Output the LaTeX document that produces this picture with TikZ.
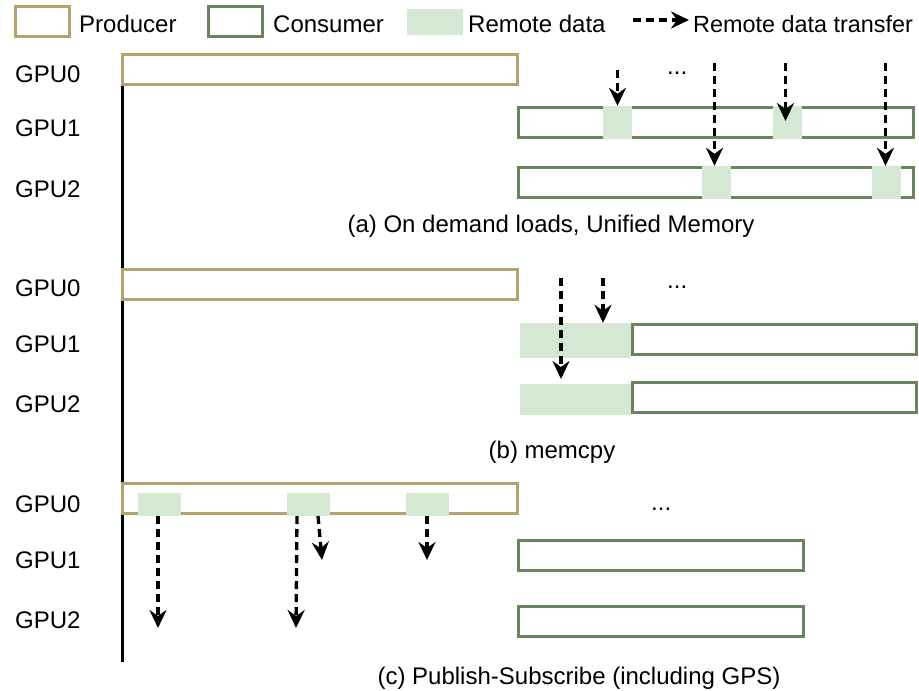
\documentclass[tikz,border=0pt]{standalone}
\usepackage{fontspec}
\setmainfont{Liberation Sans}
\usetikzlibrary{arrows.meta}
\definecolor{prodc}{RGB}{180,161,112}
\definecolor{consc}{RGB}{106,132,94}
\definecolor{remc}{RGB}{213,232,212}
\tikzset{
  txt/.style={font=\fontsize{24}{28}\selectfont, inner sep=0pt, anchor=base west},
  ctxt/.style={font=\fontsize{24}{28}\selectfont, inner sep=0pt, anchor=base},
  prodbox/.style={draw=prodc, line width=3pt, fill=white, inner sep=0pt, minimum height=30pt},
  consbox/.style={draw=consc, line width=3pt, fill=white, inner sep=0pt, minimum height=30pt},
  remote/.style={fill=remc, draw=none, inner sep=0pt},
  xfer/.style={line width=3.3pt, dash pattern=on 8pt off 5pt, -{Stealth[length=18pt,width=17pt,inset=6pt]}},
  timeline/.style={line width=3pt, black}
}
\begin{document}
\begin{tikzpicture}[x=1pt,y=-1pt]
\useasboundingbox (0,0) rectangle (919,691);
\fill[white] (0,0) rectangle (919,691);

% ---------- legend ----------
\node[prodbox, minimum width=54pt] (lp) at (42.5,21.5) {};
\node[txt] (lpt) at (79,32) {Producer};
\node[consbox, minimum width=54pt] (lc) at (235.5,21.5) {};
\node[txt] (lct) at (273,32) {Consumer};
\node[remote, minimum width=56pt, minimum height=26pt] (lr) at (435,22) {};
\node[txt] (lrt) at (468,32) {Remote data};
\coordinate (la1) at (633,20);
\coordinate (la2) at (689,20);
\draw[xfer] (la1) -- (la2);
\node[txt, font=\fontsize{23.4}{28}\selectfont] (lat) at (693,32) {Remote data transfer};

% ---------- timeline ----------
\coordinate (tl1) at (122,55);
\coordinate (tl2) at (122,662);
\draw[timeline] (tl1) -- (tl2);

% ---------- (a) ----------
\node[txt] (ga0) at (15,82) {GPU0};
\node[txt] (ga1) at (15,136) {GPU1};
\node[txt] (ga2) at (15,197) {GPU2};
\node[prodbox, minimum width=395pt] (pa) at (320,69.5) {};
\node[consbox, minimum width=395pt] (ca1) at (716,122.5) {};
\node[consbox, minimum width=395pt] (ca2) at (716,182.5) {};
\node[remote, minimum width=29pt, minimum height=33pt] (ra1) at (617.5,122.5) {};
\node[remote, minimum width=29pt, minimum height=33pt] (ra2) at (787.5,122.5) {};
\node[remote, minimum width=29pt, minimum height=33pt] (ra3) at (716.5,182.5) {};
\node[remote, minimum width=29pt, minimum height=33pt] (ra4) at (886.5,182.5) {};
\node[txt] (da) at (667,74) {...};
\coordinate (sa1) at (617.5,70);
\coordinate (sa2) at (714.5,63);
\coordinate (sa3) at (785.5,63);
\coordinate (sa4) at (885.5,63);
\coordinate (ea3) at (785.5,121);
\draw[xfer] (sa1) -- (ra1.north);
\draw[xfer] (sa2) -- (sa2 |- ra3.north);
\draw[xfer] (sa3) -- (ea3);
\draw[xfer] (sa4) -- (sa4 |- ra4.north);
\node[ctxt] (capa) at (551,232) {(a) On demand loads, Unified Memory};

% ---------- (b) ----------
\node[txt] (gb0) at (15,296) {GPU0};
\node[txt] (gb1) at (15,352) {GPU1};
\node[txt] (gb2) at (15,412) {GPU2};
\node[prodbox, minimum width=395pt] (pb) at (320,284) {};
\node[remote, minimum width=111pt, minimum height=35pt] (rb1) at (575.5,340.5) {};
\node[remote, minimum width=111pt, minimum height=31pt] (rb2) at (575.5,399.5) {};
\node[consbox, minimum width=284pt] (cb1) at (774.5,339.5) {};
\node[consbox, minimum width=284pt] (cb2) at (774.5,397) {};
\node[txt] (db) at (667,288) {...};
\coordinate (sb1) at (561,278);
\coordinate (sb2) at (603,278);
\coordinate (eb1) at (561,379);
\draw[xfer] (sb1) -- (eb1);
\draw[xfer] (sb2) -- (sb2 |- rb1.north);
\node[ctxt] (capb) at (552,458) {(b) memcpy};

% ---------- (c) ----------
\node[txt] (gc0) at (15,512) {GPU0};
\node[txt] (gc1) at (15,568) {GPU1};
\node[txt] (gc2) at (15,628) {GPU2};
\node[prodbox, minimum width=395pt] (pc) at (320,498.5) {};
\node[remote, minimum width=43pt, minimum height=23pt] (rc1) at (159.5,504.5) {};
\node[remote, minimum width=43pt, minimum height=23pt] (rc2) at (308.5,504.5) {};
\node[remote, minimum width=43pt, minimum height=23pt] (rc3) at (427.5,504.5) {};
\node[consbox, minimum width=285pt] (cc1) at (661,555.5) {};
\node[consbox, minimum width=285pt] (cc2) at (661,621) {};
\node[txt] (dc) at (651,510) {...};
\coordinate (sc1) at (158,516);
\coordinate (ec1) at (158,628);
\coordinate (sc2) at (297,516);
\coordinate (ec2) at (296,628);
\coordinate (sc3) at (318,516);
\coordinate (ec3) at (322,560);
\coordinate (sc4) at (427,516);
\coordinate (ec4) at (427,560);
\draw[xfer] (sc1) -- (ec1);
\draw[xfer] (sc2) -- (ec2);
\draw[xfer] (sc3) -- (ec3);
\draw[xfer] (sc4) -- (ec4);
\node[ctxt] (capc) at (579,684) {(c) Publish-Subscribe (including GPS)};
\end{tikzpicture}
\end{document}
